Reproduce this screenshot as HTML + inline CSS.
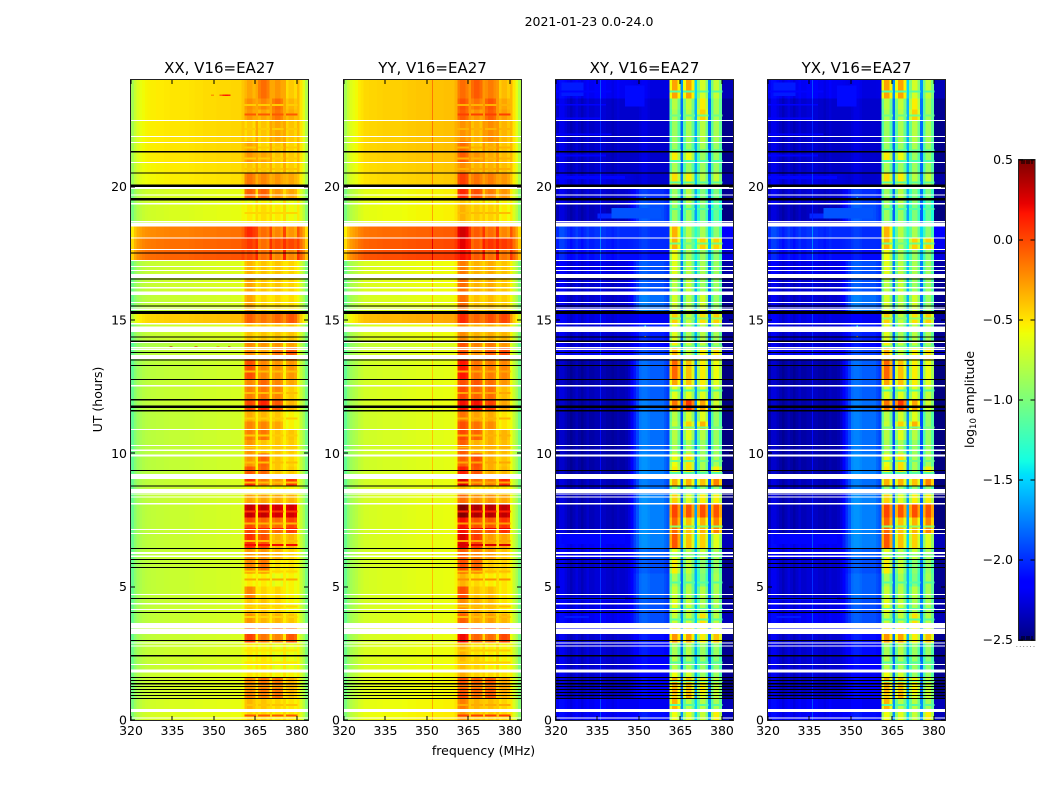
<!DOCTYPE html>
<html>
<head>
<meta charset="utf-8">
<title>2021-01-23 0.0-24.0</title>
<style>
html,body{margin:0;padding:0;background:#fff;width:1050px;height:800px;overflow:hidden}
svg{display:block}
text{font-family:"DejaVu Sans","Liberation Sans",sans-serif;fill:#000}
</style>
</head>
<body>
<svg id="chart" xmlns="http://www.w3.org/2000/svg" width="1050" height="800" viewBox="0 0 1050 800">
  <rect x="0" y="0" width="1050" height="800" fill="#fff"/>
  <text x="589" y="26" font-size="12.5" text-anchor="middle">2021-01-23 0.0-24.0</text>
  <text x="483.5" y="755" font-size="12.5" text-anchor="middle">frequency (MHz)</text>
  <text transform="translate(102,399.5) rotate(-90)" font-size="12.5" text-anchor="middle">UT (hours)</text>
  <text transform="translate(974,399.5) rotate(-90)" font-size="12.5" text-anchor="middle">log<tspan font-size="8.5" dy="2">10</tspan><tspan dy="-2"> amplitude</tspan></text>
</svg>
<script>
/* Axis tick data */
const freqTicks = [320, 335, 350, 365, 380];
const hourTicks = [0, 5, 10, 15, 20];
const colorTicks = [-2.5, -2.0, -1.5, -1.0, -0.5, 0.0, 0.5];
const panelNames = ["XX, V16=EA27", "YY, V16=EA27", "XY, V16=EA27", "YX, V16=EA27"];

/* Row tops in UT hours (each row ends at the next top) */
const rowTop = [24,23.3,22.9,22.5,21.7,21.32,20.9,20.53,20.07,19.55,19.37,18.5,18.1,17.66,17.24,16.56,15.94,15.31,14.87,14.22,13.97,13.5,12.78,12.55,12.02,11.6,11.2,10.9,10.5,10,9.5,9.04,8.79,8.5,8.12,7.6,7.0,6.44,6,5.5,5,4.56,4,3.63,3.23,2.9,2.42,1.9,1.6,1.0,0.8,0.3];

/* Parallel hands: log10 amplitude of the quiet band and four RFI sub-bands, by row */
const parallelQuiet = [-.50,-.50,-.50,-.50,-.50,-.50,-.52,-.53,-.66,-.66,-.66,-.18,-.12,-.08,-.7,-.7,-.72,-.42,-.7,-.78,-.74,-.74,-.72,-.72,-.72,-.74,-.74,-.74,-.74,-.74,-.74,-.72,-.72,-.72,-.72,-.72,-.72,-.72,-.72,-.72,-.72,-.72,-.72,-.68,-.72,-.7,-.7,-.68,-.68,-.68,-.66,-.64];
const parallelBand1 = [-.2,-.12,-.15,-.32,-.2,-.15,-.3,-.05,.02,-.5,-.42,.2,.15,.1,-.25,-.2,-.2,.02,-.3,-.12,-.12,.08,-.1,-.08,.1,-.22,-.1,-.08,-.15,-.15,.05,.18,-.45,-.2,.42,.1,.18,-.15,-.1,-.42,-.1,-.3,-.15,.05,.12,-.42,-.45,-.4,-.12,-.1,-.25,-.35];
const parallelBand2 = [-.02,-.1,-.2,-.3,-.35,-.2,-.3,-.1,.02,-.45,-.38,-.02,-.02,-.02,-.3,-.3,-.35,-.05,-.3,-.15,-.2,-.1,0,-.05,.22,-.25,-.1,-.05,-.3,.02,0,-.05,-.45,-.2,.42,.02,.08,-.15,-.05,-.42,-.35,-.3,-.25,.05,-.05,-.45,-.4,-.4,-.05,-.1,-.3,-.35];
const parallelBand3 = [-.15,-.02,-.05,-.2,-.3,-.3,-.32,-.15,-.15,-.5,-.42,-.1,.08,-.1,-.3,-.3,-.35,0,-.3,-.15,-.05,-.15,-.1,-.1,.05,-.3,-.2,-.3,-.3,-.3,-.3,-.15,-.45,-.22,.38,-.02,-.25,-.25,-.4,-.5,-.35,-.35,-.25,.05,-.1,-.5,-.5,-.45,-.05,-.05,-.35,-.4];
const parallelBand4 = [-.32,-.25,-.22,-.3,-.35,-.32,-.33,-.2,-.2,-.5,-.48,-.15,.1,-.1,-.35,-.35,-.38,.05,-.3,-.2,.05,-.15,-.2,-.32,-.25,-.45,-.45,-.3,-.32,-.35,-.32,.15,-.45,-.25,.38,.12,-.25,-.35,-.4,-.45,-.45,-.45,-.3,0,.05,-.5,-.5,-.45,-.25,-.3,-.4,-.4];
const parallelBandShift = -0.12;

/* Cross hands: quiet left band, quiet mid band, and four RFI sub-bands, by row */
const crossLeft = [-2.2,-2.3,-2.3,-2.32,-2.32,-2.32,-2.32,-2.25,-2.3,-2.3,-2.35,-2.0,-2.05,-2.1,-2.25,-2.3,-2.3,-2.25,-2.3,-2.3,-2.2,-2.4,-2.4,-2.35,-2.4,-2.4,-2.4,-2.4,-2.4,-2.4,-2.4,-2.35,-2.35,-2.35,-2.35,-2.35,-2.2,-2.25,-2.3,-2.3,-2.3,-2.25,-2.2,-2.2,-2.3,-2.3,-2.3,-2.3,-2.35,-2.35,-2.2,-2.2];
const crossMid = [-2.25,-2.3,-2.3,-2.3,-2.3,-2.3,-2.3,-2.3,-2.0,-1.95,-1.9,-2.0,-2.0,-2.1,-1.9,-1.9,-1.8,-2.2,-2.05,-2.1,-1.95,-1.85,-1.85,-1.85,-1.8,-1.8,-1.8,-1.8,-1.8,-1.75,-1.75,-1.8,-1.8,-1.75,-1.75,-1.75,-1.75,-1.85,-1.9,-1.85,-1.85,-1.9,-1.9,-1.95,-2.1,-2.1,-2.15,-2.2,-2.15,-2.15,-2.2,-2.1];
const crossBand1 = [-.25,-.75,-.8,-.85,-.85,-.5,-.8,-.45,-.85,-.85,-.85,-.3,-.3,-.55,-.6,-.75,-.65,-.4,-.6,-.5,-.3,-.05,-.25,-.6,-.1,-.75,-.7,-.75,-.8,-.55,-.5,-.3,-.9,-.4,.05,-.05,0,-.6,-.5,-.8,-.7,-.6,-.7,-.4,-.2,-.8,-.75,-.55,-.3,-.4,-.3,-.55];
const crossBand2 = [-.25,-.7,-.75,-.8,-.85,-.55,-.85,-.5,-.75,-.75,-.85,-.75,-.8,-.8,-.75,-.7,-.75,-.7,-.8,-.7,-.7,-.35,-.35,-.6,.1,-.65,-.4,-.6,-.8,-.45,-.45,-.3,-.9,-.6,0,-.35,-.35,-.75,-.7,-.8,-.75,-.7,-.7,-.4,-.25,-.75,-.8,-.65,-.35,-.3,-.75,-.6];
const crossBand3 = [-.65,-.5,-.4,-.75,-.8,-.85,-.85,-.75,-.95,-.9,-.95,-.8,-.4,-.85,-.8,-.85,-.65,-.45,-.75,-.7,-.5,-.5,-.5,-.6,-.25,-.6,-.3,-.75,-.85,-.8,-.8,-.35,-.9,-.5,.02,-.3,-.4,-.7,-.9,-.95,-.75,-.8,-.45,-.5,-.5,-.85,-.85,-.85,-.5,-.6,-.75,-.7];
const crossBand4 = [-.7,-.8,-.8,-.8,-.85,-.85,-.85,-.7,-.95,-1.05,-1.05,-.9,-.4,-.9,-.85,-.85,-.85,-.4,-.8,-.8,-.45,-.55,-.6,-.7,-.65,-.85,-.85,-.85,-.85,-.8,-.5,-.15,-.9,-.5,0,-.15,-.6,-.8,-.85,-.8,-.8,-.8,-.75,-.6,-.35,-.85,-.9,-.85,-.7,-.7,-.8,-.5];
const crossBandShift = -0.08;

/* Channel profiles (64 channels, 1 MHz each from 320 MHz) */
const bandOfChannel = [-1,-1,-1,-1,-1,-1,-1,-1,-1,-1,-1,-1,-1,-1,-1,-1,-1,-1,-1,-1,-1,-1,-1,-1,-1,-1,-1,-1,-1,-1,-1,-1,-1,-1,-1,-1,-1,-1,-1,-1,-1,0,0,0,0,-1,1,1,1,1,-1,2,2,2,2,-1,3,3,3,3,-1,-1,-1,-1];
const parallelProfile = [-.35,-.22,-.14,-.1,-.07,-.05,-.04,-.03,-.03,-.02,-.02,-.02,-.01,-.01,0,0,0,0,0,0,0,.01,.01,.02,.02,.02,.03,.03,.03,.03,.03,.04,.04,.04,.04,.04,.05,.05,.05,.05,.1,-.03,.03,.03,-.03,.2,-.03,.03,.03,-.03,.2,-.03,.03,.03,-.03,.2,-.03,.03,.03,-.03,.15,0,-.12,-.3];
const yyProfile = [0,0,0,0,0,.03,.05,.07,.07,.07,.07,.07,.07,.07,.07,.07,.07,.07,.07,.07,.07,.07,.07,.07,.07,.07,.07,.07,.07,.07,.07,.07,.07,.07,.07,.07,.07,.07,.07,.07,.07,.18,.18,.18,.18,.05,.06,.06,.06,.06,.05,.08,.08,.08,.08,.05,.05,.05,.05,.05,0,0,0,0];
const crossMidWeight = [0,0,0,0,0,0,0,0,0,0,0,0,0,0,0,0,0,0,0,0,0,0,0,0,0,.05,.15,.35,.6,.8,1,1,1,1,1,1,1,1,1,.9,.8,0,0,0,0,0,0,0,0,0,0,0,0,0,0,0,0,0,0,0,0,0,0,0];
const crossProfile = [0,.1,.1,.05,0,-.05,0,.05,0,-.05,0,.05,0,0,.03,.03,.03,.03,0,0,-.03,0,.03,0,0,0,0,0,0,0,.03,.06,.06,.03,0,0,0,0,0,0,0,-.25,.05,.05,-.22,.5,-.25,.05,.05,-.22,.7,-.25,.05,.05,-.22,.5,-.25,.05,.05,-.22,-.15,-.15,-.15,-.15];

/* Thin single-pixel channel features */
const yyLineFreq = 351.9;
const yyLineDelta = 0.28;
const crossLineFreq = 336;
const crossLineDelta = 0.3;

/* Band striations: light and dark streaks across the RFI sub-bands */
const parallelStripeHours = [23.1,22.75,22.2,21.5,21.1,20.7,19.05,13.1,12.3,11.35,10.7,10.25,9.7,8.95,7.85,7.4,7.2,6.75,6.6,5.6,5.3,4.3,3.9,2.65,2.2,1.3,.6,.2];
const parallelStripeValues = [-.42,-.05,-.42,-.42,-.42,-.4,-.45,-.38,-.38,-.42,-.42,-.42,-.38,-.38,.05,-.35,.15,-.38,.2,-.45,-.3,-.45,-.45,-.5,-.5,-.35,-.4,-.05];
const crossStripeHours = [23.6,22.7,21.4,21.0,20.2,19.2,17.9,16.7,15.1,14.05,12.4,11.0,9.75,9.3,7.3,6.2,5.2,4.2,3.8,2.2,1.5,.6];
const crossStripeValues = [-1.15,-1.05,-1.15,-1.2,-1.15,-1.15,-1.05,-1.15,-.95,-1.05,-1.15,-1.05,-1.05,-1.15,-.95,-1.05,-1.15,-1.15,-1.15,-1.15,-1.05,-1.15];

/* Patches of brighter emission in the cross-hand quiet band */
const patchTop = [19.2,19.0,23.9,23.8,23.6,23.1,22.6,22.0,21.2,20.4,7.0,4.6,3.9];
const patchBottom = [18.8,18.8,23.4,23.0,23.54,23.04,22.54,21.94,21.14,20.28,6.6,4.5,3.82];
const patchFreqStart = [340,335,322,345,320,320,320,320,320,320,322,320,323];
const patchFreqEnd = [358,340,330,352,340,338,336,340,338,345,345,345,332];
const patchValues = [-1.88,-2.02,-2.05,-2.1,-2.12,-2.15,-2.15,-2.15,-2.15,-2.12,-2.12,-2.08,-2.05];

/* Isolated interference spikes: panel index, hour, frequency, value */
const rfiPanels = [0,0,0,0,0,0,0,0,0,2,2,2,3,3,3];
const rfiHours = [23.45,23.45,23.45,23.45,23.45,14.0,14.0,14.0,14.0,19.6,14.8,14.4,19.6,14.8,14.4];
const rfiFreqs = [349,352,353,354,355,334,343,351,355,352,352,352,352,352,352];
const rfiValues = [-.25,-.1,.1,.15,.1,.3,.2,-.1,.2,-1.3,-1.3,-.3,-1.3,-1.3,-.3];

/* Flagged (white) and dropped (black) time ranges, in UT hours */
const whiteTop = [22.5,21.9,21.67,20.92,20.0,19.71,19.38,18.72,18.65,18.1,17.67,17.25,17.02,16.87,16.72,16.42,16.23,16.06,15.67,15.47,15.41,14.88,14.75,14.17,13.98,13.92,13.69,12.56,10.91,10.31,10.15,9.96,9.22,9.19,8.66,8.49,8.38,8.13,7.16,7.01,6.3,6.16,4.72,4.38,4.16,3.64,3.41,2.91,2.8,2.1,1.9,.41,.1];
const whiteSpan = [.04,.04,.04,.04,.08,.04,.04,.03,.15,.04,.04,.04,.04,.04,.15,.04,.04,.12,.04,.04,.04,.04,.2,.04,.04,.04,.15,.06,.04,.04,.06,.08,.04,.15,.14,.04,.04,.04,.04,.04,.08,.04,.04,.04,.04,.2,.18,.04,.04,.04,.11,.11,.04];
const blackTop = [21.33,20.54,20.09,19.57,17.54,16.55,15.55,15.33,14.38,14.24,13.8,13.52,13.31,12.79,12.03,11.8,11.62,9.37,8.8,6.45,6.04,5.89,5.74,4.57,4.05,3.0,2.43,1.61,1.5,1.38,1.27,1.16,1.05,.94,.82];
const blackSpan = [.04,.04,.1,.09,.04,.04,.04,.1,.04,.07,.04,.04,.04,.04,.04,.1,.06,.04,.04,.04,.04,.04,.04,.04,.04,.04,.04,.04,.04,.04,.04,.04,.04,.04,.04];

/* Axis functions */
const plotTop = 80, plotBottom = 720, plotWidth = 177;
const panelLeft = [131, 344, 556, 768];
const yScale = h => plotBottom - h * (plotBottom - plotTop) / 24;
const xScale = (panel, f) => panelLeft[panel] + (f - 320) * plotWidth / 64;
const colorMin = -2.5, colorMax = 0.5;
const cbTop = 160, cbBottom = 640, cbLeft = 1019, cbRight = 1034.5;
const cbScale = v => cbBottom - (v - colorMin) / (colorMax - colorMin) * (cbBottom - cbTop);

function ramp(p, stops) {
  if (p <= stops[0][0]) return stops[0][1];
  for (let i = 1; i < stops.length; i++) {
    if (p <= stops[i][0]) {
      const a = stops[i - 1], b = stops[i];
      return a[1] + (b[1] - a[1]) * (p - a[0]) / (b[0] - a[0]);
    }
  }
  return stops[stops.length - 1][1];
}
function jet(v) {
  const p = Math.max(0, Math.min(1, (v - colorMin) / (colorMax - colorMin)));
  const r = ramp(p, [[0.35, 0], [0.66, 1], [0.89, 1], [1, 0.5]]);
  const g = ramp(p, [[0.125, 0], [0.375, 1], [0.64, 1], [0.91, 0]]);
  const b = ramp(p, [[0, 0.5], [0.11, 1], [0.34, 1], [0.65, 0]]);
  return "rgb(" + Math.round(r * 255) + "," + Math.round(g * 255) + "," + Math.round(b * 255) + ")";
}

const svg = document.getElementById("chart");
const NS = "http://www.w3.org/2000/svg";
function make(tag, parent) {
  const el = document.createElementNS(NS, tag);
  parent.appendChild(el);
  return el;
}
function setRect(el, x, y, w, h, fill) {
  el.setAttribute("x", x);
  el.setAttribute("y", y);
  el.setAttribute("width", w);
  el.setAttribute("height", h);
  el.setAttribute("fill", fill);
  el.setAttribute("shape-rendering", "crispEdges");
}
function setLine(el, x1, y1, x2, y2, color) {
  el.setAttribute("x1", x1);
  el.setAttribute("y1", y1);
  el.setAttribute("x2", x2);
  el.setAttribute("y2", y2);
  el.setAttribute("stroke", color);
  el.setAttribute("stroke-width", 1);
  el.setAttribute("shape-rendering", "crispEdges");
}

function cellValue(panel, row, ch) {
  const band = bandOfChannel[ch];
  if (panel < 2) {
    const extra = panel === 1 ? yyProfile[ch] : 0;
    if (band >= 0) {
      const lv = [parallelBand1, parallelBand2, parallelBand3, parallelBand4][band][row];
      return lv + parallelBandShift + parallelProfile[ch] + extra;
    }
    return parallelQuiet[row] + parallelProfile[ch] + extra;
  }
  if (band >= 0) {
    const lv = [crossBand1, crossBand2, crossBand3, crossBand4][band][row];
    return lv + crossBandShift + crossProfile[ch];
  }
  const w = crossMidWeight[ch];
  return crossLeft[row] + w * (crossMid[row] - crossLeft[row]) + crossProfile[ch];
}

for (let p = 0; p < 4; p++) {
  const panel = make("g", svg);
  
  

  const heat = make("g", panel);
  
  
  for (let r = 0; r < rowTop.length; r++) {
    const next = r + 1 < rowTop.length ? rowTop[r + 1] : 0;
    const y0 = yScale(rowTop[r]), y1 = yScale(next);
    for (let c = 0; c < 64; c++) {
      const x0 = xScale(p, 320 + c), x1 = xScale(p, 321 + c);
      const cell = make("rect", heat);
      setRect(cell, x0, y0, x1 - x0 + 0.5, y1 - y0 + 0.5, jet(cellValue(p, r, c)));
      
      
    }
  }

  if (p >= 2) {
    for (let i = 0; i < patchValues.length; i++) {
      const patch = make("rect", heat);
      setRect(patch, xScale(p, patchFreqStart[i]), yScale(patchTop[i]), xScale(p, patchFreqEnd[i]) - xScale(p, patchFreqStart[i]), yScale(patchBottom[i]) - yScale(patchTop[i]), jet(patchValues[i]));
      
      
    }
  }

  const stripeHours = p < 2 ? parallelStripeHours : crossStripeHours;
  const stripeValues = p < 2 ? parallelStripeValues : crossStripeValues;
  for (let i = 0; i < stripeHours.length; i++) {
    for (let c = 0; c < 64; c++) {
      if (bandOfChannel[c] < 0) continue;
      const stripe = make("rect", heat);
      setRect(stripe, xScale(p, 320 + c), yScale(stripeHours[i]), plotWidth / 64 + 0.5, 2, jet(stripeValues[i] + (p === 1 ? 0.08 : 0)));
      
      
    }
  }

  if (p >= 1) {
    const lineFreq = p === 1 ? yyLineFreq : crossLineFreq;
    const lineDelta = p === 1 ? yyLineDelta : crossLineDelta;
    for (let r = 0; r < rowTop.length; r++) {
      const next = r + 1 < rowTop.length ? rowTop[r + 1] : 0;
      const base = p === 1 ? parallelQuiet[r] + 0.07 : crossLeft[r];
      const seg = make("rect", heat);
      setRect(seg, Math.round(xScale(p, lineFreq)), yScale(rowTop[r]), 1, yScale(next) - yScale(rowTop[r]) + 0.5, jet(base + lineDelta));
      
      
    }
  }

  for (let i = 0; i < rfiHours.length; i++) {
    if (rfiPanels[i] !== p) continue;
    const spike = make("rect", panel);
    setRect(spike, xScale(p, rfiFreqs[i]), yScale(rfiHours[i]), p < 2 ? plotWidth / 64 : 1.5, 1.5, jet(rfiValues[i]));
    
    
  }

  for (let i = 0; i < whiteTop.length; i++) {
    const band = make("rect", panel);
    setRect(band, panelLeft[p], yScale(whiteTop[i]), plotWidth, Math.max(1, yScale(whiteTop[i] - whiteSpan[i]) - yScale(whiteTop[i])), "#fff");
    
    
  }
  for (let i = 0; i < blackTop.length; i++) {
    const band = make("rect", panel);
    setRect(band, panelLeft[p], yScale(blackTop[i]), plotWidth, Math.max(1, yScale(blackTop[i] - blackSpan[i]) - yScale(blackTop[i])), "#000");
    
    
  }

  const frame = make("rect", panel);
  frame.setAttribute("x", panelLeft[p] - 0.5);
  frame.setAttribute("y", plotTop - 0.5);
  frame.setAttribute("width", plotWidth + 1);
  frame.setAttribute("height", plotBottom - plotTop + 1);
  frame.setAttribute("fill", "none");
  frame.setAttribute("stroke", "#222");
  frame.setAttribute("stroke-width", 1);
  frame.setAttribute("shape-rendering", "crispEdges");
  
  

  for (const f of freqTicks) {
    const x = Math.round(xScale(p, f));
    const tb = make("line", panel);
    setLine(tb, x, plotBottom, x, plotBottom - 4, "#000");
    
    
    const tt = make("line", panel);
    setLine(tt, x, plotTop, x, plotTop + 4, "#000");
    
    
    const lab = make("text", panel);
    lab.setAttribute("x", xScale(p, f));
    lab.setAttribute("y", 735);
    lab.setAttribute("font-size", 12.5);
    lab.setAttribute("text-anchor", "middle");
    lab.textContent = f;
    
    
  }
  for (const h of hourTicks) {
    const y = Math.round(yScale(h));
    const tl = make("line", panel);
    setLine(tl, panelLeft[p], y, panelLeft[p] + 4, y, "#000");
    
    
    const tr = make("line", panel);
    setLine(tr, panelLeft[p] + plotWidth, y, panelLeft[p] + plotWidth - 4, y, "#000");
    
    
    const lab = make("text", panel);
    lab.setAttribute("x", panelLeft[p] - 4);
    lab.setAttribute("y", yScale(h) + 4.5);
    lab.setAttribute("font-size", 12.5);
    lab.setAttribute("text-anchor", "end");
    lab.textContent = h;
    
    
  }

  const title = make("text", panel);
  title.setAttribute("x", panelLeft[p] + plotWidth / 2);
  title.setAttribute("y", 73);
  title.setAttribute("font-size", 15);
  title.setAttribute("text-anchor", "middle");
  title.textContent = panelNames[p];
  
  
}

/* Colorbar */
const cb = make("g", svg);


for (let i = 0; i < 240; i++) {
  const v = colorMin + (i + 0.5) / 240 * (colorMax - colorMin);
  const seg = make("rect", cb);
  setRect(seg, cbLeft, cbScale(v) - 1, cbRight - cbLeft, 2.5, jet(v));
  
  
}
const cbFrame = make("rect", cb);
cbFrame.setAttribute("x", cbLeft - 0.5);
cbFrame.setAttribute("y", cbTop - 0.5);
cbFrame.setAttribute("width", cbRight - cbLeft + 1);
cbFrame.setAttribute("height", cbBottom - cbTop + 1);
cbFrame.setAttribute("fill", "none");
cbFrame.setAttribute("stroke", "#222");
cbFrame.setAttribute("stroke-width", 1);
cbFrame.setAttribute("shape-rendering", "crispEdges");


for (const v of colorTicks) {
  const y = Math.round(cbScale(v));
  const a = make("line", cb);
  setLine(a, cbLeft, y, cbLeft + 4, y, "#000");
  
  
  const b = make("line", cb);
  setLine(b, cbRight, y, cbRight - 4, y, "#000");
  
  
  const lab = make("text", cb);
  lab.setAttribute("x", 1013);
  lab.setAttribute("y", cbScale(v) + 4);
  lab.setAttribute("font-size", 12.5);
  lab.setAttribute("text-anchor", "end");
  lab.textContent = v.toFixed(1).replace("-", "\u2212");
  
  
}
for (let i = 1; i <= 5; i++) {
  const x = Math.round(cbLeft + i * (cbRight - cbLeft) / 6);
  const t = make("line", cb);
  setLine(t, x, cbTop, x, cbTop + 4, "#000");
  
  
  const u = make("line", cb);
  setLine(u, x, cbBottom, x, cbBottom - 4, "#000");
  
  
}
const dots = make("text", cb);
dots.setAttribute("x", 1026);
dots.setAttribute("y", 647);
dots.setAttribute("font-size", 7);
dots.setAttribute("text-anchor", "middle");
dots.setAttribute("letter-spacing", "1.2");
dots.setAttribute("style", "fill:#555");
dots.textContent = "......";


</script>
</body>
</html>
